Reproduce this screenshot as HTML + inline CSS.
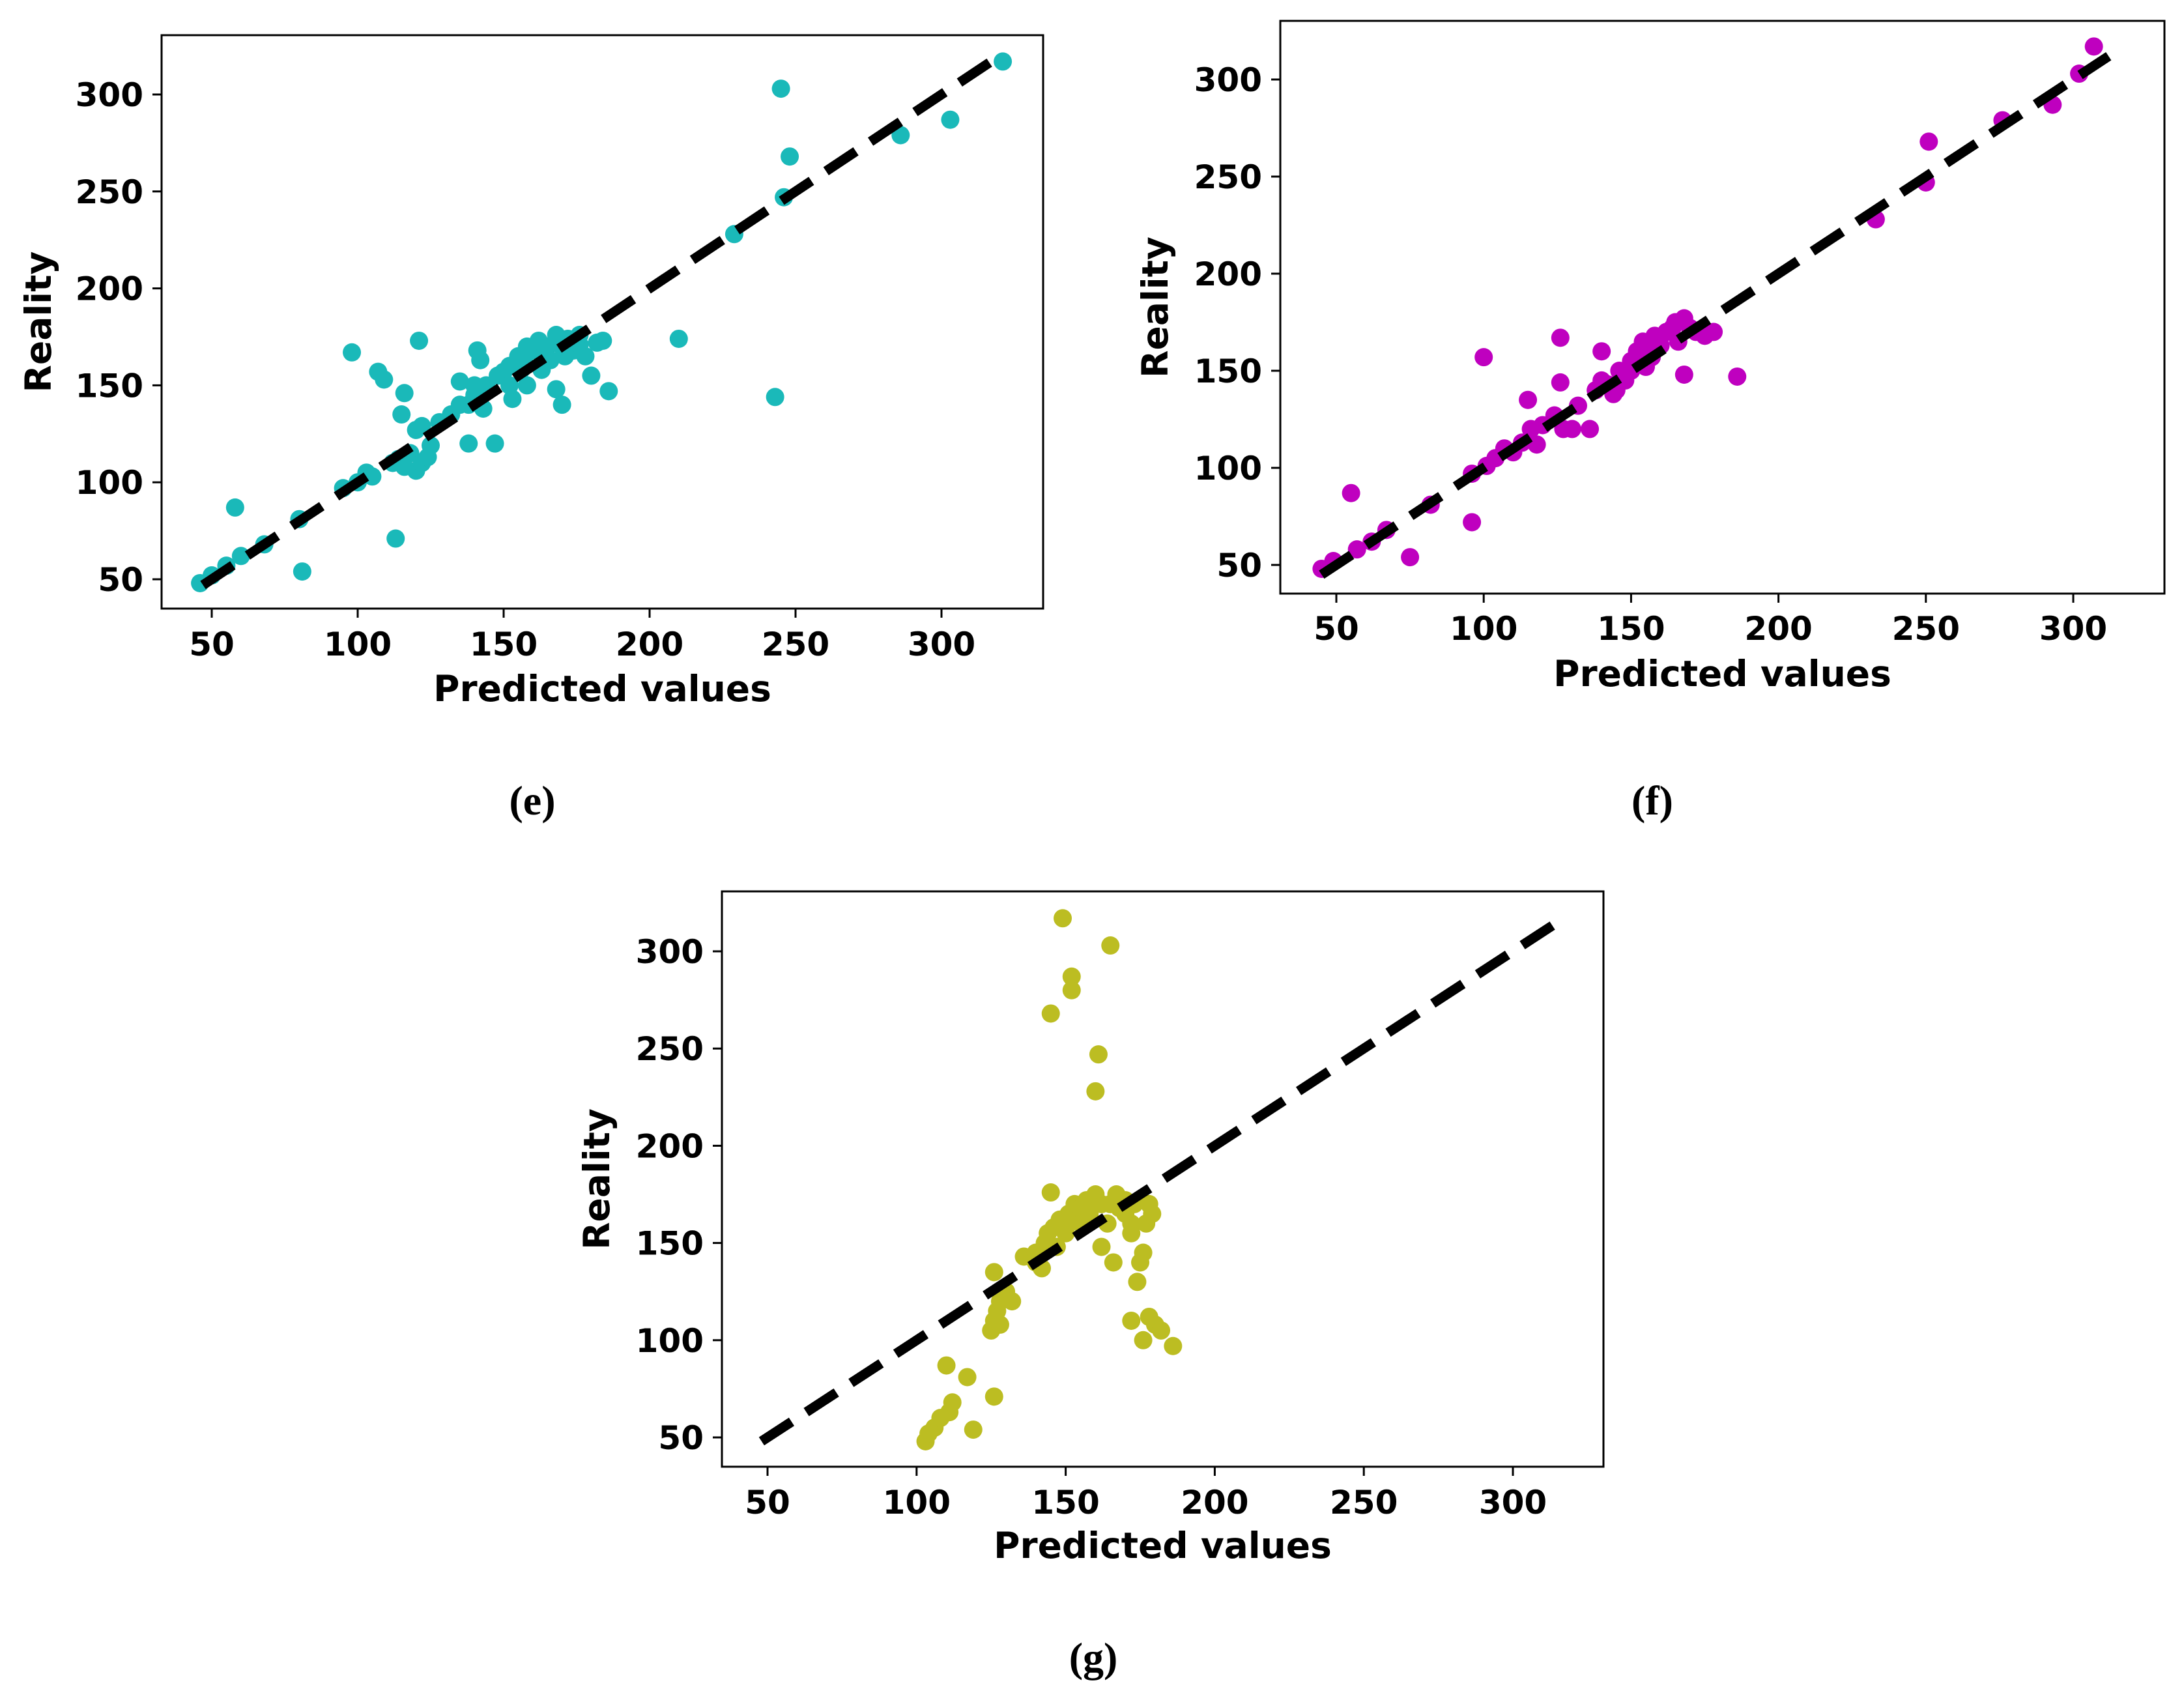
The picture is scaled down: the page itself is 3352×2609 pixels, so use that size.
<!DOCTYPE html>
<html><head><meta charset="utf-8"><style>
html,body{margin:0;padding:0;background:#fff;}
svg{display:block;}
text{font-family:"DejaVu Sans","Liberation Sans",sans-serif;font-weight:bold;fill:#000;}
.cap{font-family:"Liberation Serif",serif;font-weight:bold;font-size:64px;}
</style></head><body>
<svg id="fig" width="3352" height="2609" viewBox="0 0 3352 2609" xmlns="http://www.w3.org/2000/svg">
<text class="cap" x="817" y="1250" text-anchor="middle">(e)</text>
<text class="cap" x="2536" y="1250" text-anchor="middle">(f)</text>
<text class="cap" x="1678" y="2565" text-anchor="middle">(g)</text>
</svg>
<script>
const ticks=[50,100,150,200,250,300];
const tickLabels=["50","100","150","200","250","300"];
const ePred=[46,50,55,58,60,68,80,81,95,100,103,105,107,109,113,115,116,98,121,112,114,116,118,120,122,124,120,122,125,128,132,135,138,138,140,141,142,143,144,147,150,152,153,155,156,157,158,160,162,163,165,166,168,168,170,171,172,174,176,178,180,182,184,186,210,229,243,245,246,248,286,303,321,135,140,148,152,158,164,170,176];
const eReal=[48,52,57,87,62,68,81,54,97,100,105,103,157,153,71,135,146,167,173,110,112,108,115,106,110,113,127,129,119,131,135,152,120,140,145,168,163,138,150,120,157,160,143,165,158,162,150,168,173,158,170,163,176,148,140,165,174,168,171,165,155,172,173,147,174,228,144,303,247,268,279,287,317,140,150,155,150,170,162,170,176];
const fPred=[45,49,55,57,62,67,75,82,96,96,100,101,104,107,110,113,115,116,118,120,124,126,126,127,130,132,136,138,140,140,142,144,146,148,150,152,154,155,157,158,160,162,164,165,166,168,168,170,172,175,178,186,233,250,251,276,293,302,307,150,145,156];
const fReal=[48,52,87,58,62,68,54,81,72,97,157,101,105,110,108,113,135,120,112,122,127,167,144,120,120,132,120,140,160,145,143,138,150,145,155,160,165,152,157,168,163,170,172,175,165,177,148,172,170,168,170,147,228,247,268,279,287,303,317,150,140,162];
const gPred=[103,104,106,108,110,111,112,117,119,126,125,126,127,128,126,128,130,132,136,140,142,143,144,145,146,147,148,149,150,151,152,152,145,153,155,157,158,160,160,161,162,162,164,165,166,167,168,170,172,172,173,174,175,176,177,178,179,172,176,178,180,182,186,150,155,140,165,170];
const gReal=[48,52,55,60,87,63,68,81,54,71,105,110,115,120,135,108,125,120,143,140,137,150,155,176,158,148,162,317,160,165,287,280,268,170,168,172,165,175,228,247,170,148,160,303,140,175,168,165,160,155,170,130,140,145,160,170,165,110,100,112,108,105,97,155,160,145,170,172];
const lineE=[47,320], lineF=[45,312], lineG=[48,317];

const NS="http://www.w3.org/2000/svg";
const svg=document.getElementById('fig');
function mk(tag,attrs,parent){const e=document.createElementNS(NS,tag);for(const k in attrs)e.setAttribute(k,attrs[k]);(parent||svg).appendChild(e);return e;}

function panel(id,cfg,xs,ys,line,color){
  const g=mk('g',{});
  
  
  const sx=v=>cfg.x50+(v-50)*(cfg.x300-cfg.x50)/250;
  const sy=v=>cfg.y50+(v-50)*(cfg.y300-cfg.y50)/250;
  const bg=mk('rect',{x:cfg.L,y:cfg.T,width:cfg.R-cfg.L,height:cfg.B-cfg.T,fill:'#fff'},g);
  
  
  const pts=mk('g',{},g);
  
  
  for(let i=0;i<xs.length;i++){
    const c=mk('circle',{cx:sx(xs[i]),cy:sy(ys[i]),r:14,fill:color},pts);
    
    
  }
  const ln=mk('line',{x1:sx(line[0]),y1:sy(line[0]),x2:sx(line[1]),y2:sy(line[1]),stroke:'#000','stroke-width':15,'stroke-dasharray':'55,27'},g);
  
  
  const fr=mk('rect',{x:cfg.L,y:cfg.T,width:cfg.R-cfg.L,height:cfg.B-cfg.T,fill:'none',stroke:'#000','stroke-width':3},g);
  
  
  for(let i=0;i<ticks.length;i++){
    const x=sx(ticks[i]);
    mk('line',{x1:x,y1:cfg.B,x2:x,y2:cfg.B+14,stroke:'#000','stroke-width':3},g);
    const t=mk('text',{x:x,y:cfg.xtY,'text-anchor':'middle','font-size':50},g);
    t.textContent=tickLabels[i];
    
    
    const y=sy(ticks[i]);
    mk('line',{x1:cfg.L-14,y1:y,x2:cfg.L,y2:y,stroke:'#000','stroke-width':3},g);
    const t2=mk('text',{x:cfg.L-28,y:y+18,'text-anchor':'end','font-size':50},g);
    t2.textContent=tickLabels[i];
    
    
  }
  const xt=mk('text',{x:(cfg.L+cfg.R)/2,y:cfg.xTitleY,'text-anchor':'middle','font-size':55},g);
  xt.textContent='Predicted values';
  
  
  const yt=mk('text',{x:0,y:0,'text-anchor':'middle','font-size':55,transform:`translate(${cfg.yTitleX},${(cfg.T+cfg.B)/2}) rotate(-90)`},g);
  yt.textContent='Reality';
  
  
}
panel('e',{L:248,R:1601,T:54,B:934,x50:325,x300:1445,y50:889,y300:145,xtY:1006,xTitleY:1076,yTitleX:78},ePred,eReal,lineE,'#1ab9b9');
panel('f',{L:1965,R:3322,T:32,B:911,x50:2051,x300:3182,y50:867,y300:122,xtY:982,xTitleY:1053,yTitleX:1792},fPred,fReal,lineF,'#bf00bf');
panel('g',{L:1108,R:2461,T:1368,B:2251,x50:1178,x300:2322,y50:2206,y300:1460,xtY:2323,xTitleY:2391,yTitleX:935},gPred,gReal,lineG,'#bcbd22');
</script>
</body></html>
